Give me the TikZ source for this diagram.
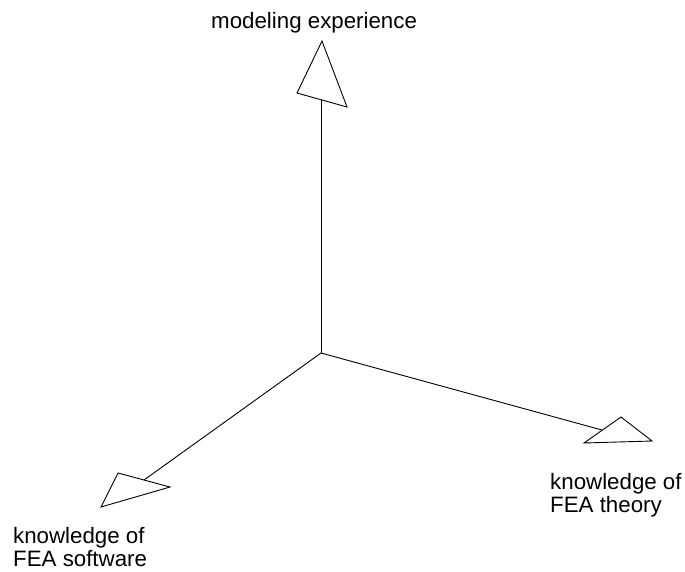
\documentclass[tikz,border=0pt]{standalone}
\usepackage{fontspec}
\setmainfont{Liberation Sans}
\usetikzlibrary{calc}

\begin{document}
\begin{tikzpicture}[x=1pt,y=-1pt,
    axisline/.style={black, line width=0.9pt, line join=miter},
    axislabel/.style={inner sep=0pt, align=left, font=\fontsize{22.3}{23}\selectfont}]
        \useasboundingbox (0,0) rectangle (685,571);

        \coordinate (origin) at (321,353);

        % arrow heads
        \coordinate (upTip) at (322,41);
        \coordinate (upL) at (297,93);
        \coordinate (upR) at (347,107);
        \coordinate (upEnd) at (321,100);

        \coordinate (thTip) at (621,417);
        \coordinate (thL) at (584,443);
        \coordinate (thR) at (652,441);
        \coordinate (thEnd) at (602,430);

        \coordinate (swTip) at (101,507);
        \coordinate (swL) at (118,473);
        \coordinate (swR) at (170,487);
        \coordinate (swEnd) at (144,480);

        \draw[axisline] (origin) -- (upEnd);
        \draw[axisline] (origin) -- (thEnd);
        \draw[axisline] (origin) -- (swEnd);

        \draw[axisline] (upTip) -- (upL) -- (upR) -- cycle;
        \draw[axisline] (thTip) -- (thL) -- (thR) -- cycle;
        \draw[axisline] (swTip) -- (swL) -- (swR) -- cycle;

        \node[axislabel, anchor=base west] (exp) at (211,28) {modeling experience};
        \node[axislabel, anchor=north west] (theory) at (550,473) {knowledge of\\FEA theory};
        \node[axislabel, anchor=north west] (software) at (13,527) {knowledge of\\FEA software};
\end{tikzpicture}
\end{document}
